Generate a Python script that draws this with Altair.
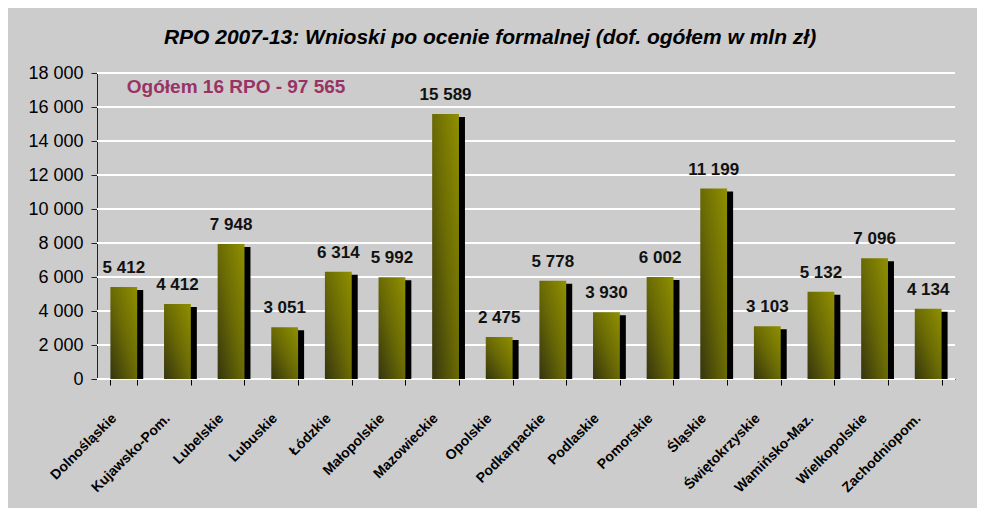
import altair as alt
import pandas as pd

regions = ["Dolnośląskie", "Kujawsko-Pom.", "Lubelskie", "Lubuskie", "Łódzkie",
           "Małopolskie", "Mazowieckie", "Opolskie", "Podkarpackie", "Podlaskie",
           "Pomorskie", "Śląskie", "Świętokrzyskie", "Wamińsko-Maz.", "Wielkopolskie",
           "Zachodniopom."]
values = [5412, 4412, 7948, 3051, 6314, 5992, 15589, 2475, 5778, 3930,
          6002, 11199, 3103, 5132, 7096, 4134]
y_ticks = [0, 2000, 4000, 6000, 8000, 10000, 12000, 14000, 16000, 18000]
title_text = "RPO 2007-13: Wnioski po ocenie formalnej (dof. ogółem w mln zł)"
note_text = "Ogółem 16 RPO - 97 565"

df = pd.DataFrame({
    "region": regions,
    "value": values,
    "label": [f"{v:,}".replace(",", " ") for v in values],
})
ticks_df = pd.DataFrame({"tick": y_ticks})

FONT = "Liberation Sans"

x_scale = alt.Scale(domain=regions, paddingInner=0.5, paddingOuter=0.25)
x_axis = alt.Axis(labelAngle=-45, labelAlign="right", labelBaseline="middle",
                  labelFontWeight="bold", labelFontSize=14, labelFont=FONT,
                  labelColor="black", labelOffset=-10, labelPadding=31,
                  tickBand="extent", tickSize=6, tickColor="black",
                  domainColor="black", grid=False, title=None)
y_axis = alt.Axis(values=y_ticks, labelOverlap=False,
                  labelExpr="replace(format(datum.value, ','), ',', ' ')",
                  labelFontSize=18, labelFont=FONT, labelColor="black", labelPadding=8,
                  tickSize=6, tickColor="#222222", domainColor="#222222",
                  grid=False, title=None)
y_scale = alt.Scale(domain=[0, 18000], nice=False, zero=True)

x_enc = alt.X("region:N", sort=regions, scale=x_scale, axis=x_axis)

grid = alt.Chart(ticks_df).mark_rule(color="white", strokeWidth=2).encode(
    y=alt.Y("tick:Q", scale=y_scale, axis=y_axis),
)

base = alt.Chart(df)

y_val = alt.Y("value:Q", scale=y_scale, axis=y_axis, stack=None)

shadow = base.mark_bar(color="black", xOffset=6, yOffset=3, y2Offset=-3).encode(
    x=x_enc, y=y_val,
)

grad = alt.Gradient(
    gradient="linear",
    stops=[alt.GradientStop(color="#35350f", offset=0),
           alt.GradientStop(color="#6a6a05", offset=0.5),
           alt.GradientStop(color="#909000", offset=1)],
    x1=0, y1=1, x2=1, y2=0,
)
bars = base.mark_bar(color=grad).encode(x=x_enc, y=y_val)

labels = base.mark_text(baseline="alphabetic", dy=-14, fontSize=17, fontWeight="bold",
                        font=FONT, color="#111111").encode(
    x=x_enc, y=y_val, text="label:N",
)

note = alt.Chart(pd.DataFrame({"t": [note_text]})).mark_text(
    align="left", baseline="alphabetic", dx=3, fontSize=19, fontWeight="bold",
    font=FONT, color="#993366").encode(
    x=alt.XDatum(datum=regions[0], type="nominal", scale=x_scale, axis=x_axis),
    y=alt.YDatum(datum=16800, type="quantitative", scale=y_scale, axis=y_axis),
    text="t:N",
)

chart = alt.layer(grid, shadow, bars, labels, note).properties(
    width=858, height=306,
    autosize=alt.AutoSizeParams(type="none"),
    padding={"left": 89, "top": 65, "right": 22, "bottom": 129},
    background="#cccccc",
    title=alt.TitleParams(text=title_text, font=FONT, fontSize=21, fontStyle="italic",
                          fontWeight="bold", color="black", anchor="middle",
                          dx=-36, offset=16),
).configure_view(stroke="transparent").configure_axisY(
    labelFontSize=18, labelFont=FONT, labelColor="black", labelPadding=8,
).configure_axisLeft(
    labelFontSize=18, labelFont=FONT,
).configure_axisQuantitative(
    labelFontSize=18, labelFont=FONT,
)

chart.save("out.html", embed_options={"renderer": "svg", "actions": False})
